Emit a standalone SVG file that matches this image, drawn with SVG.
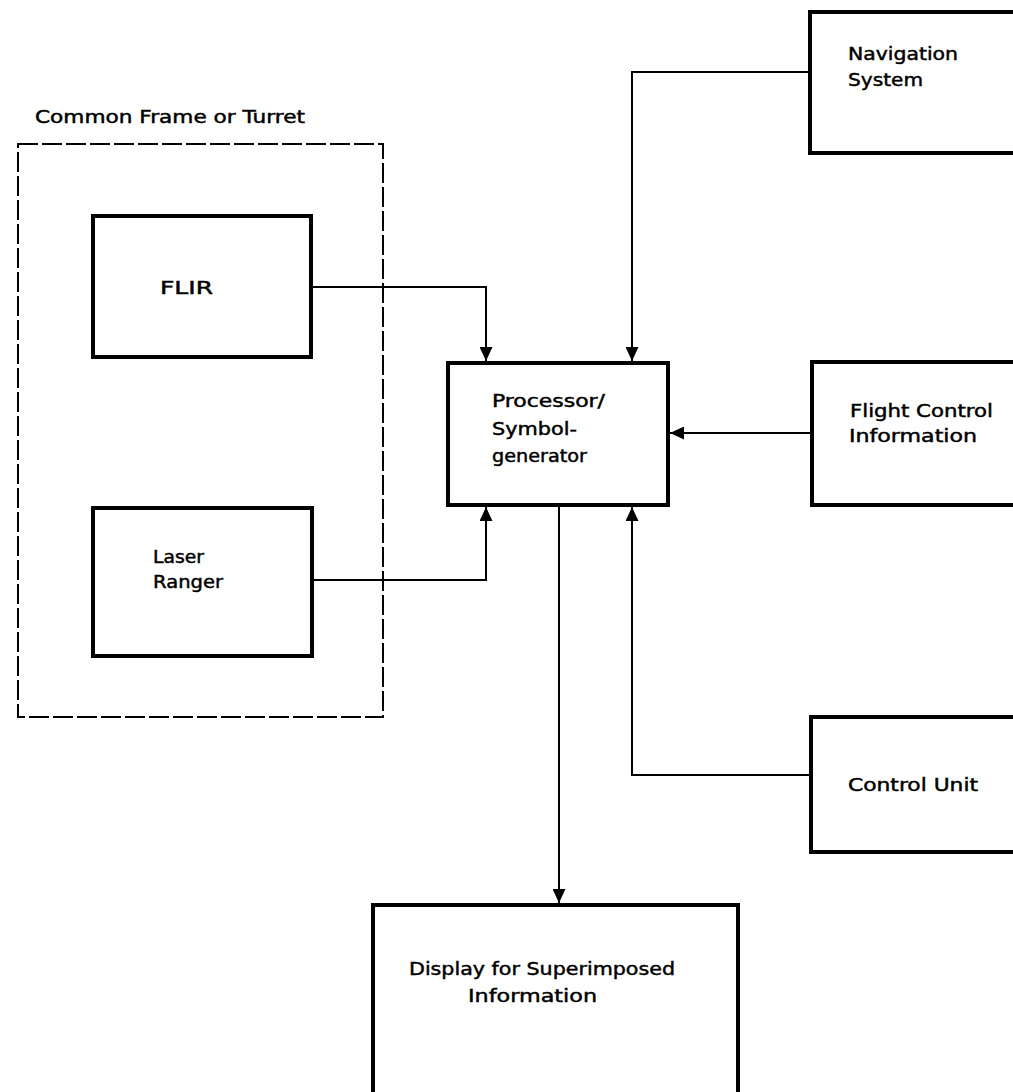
<svg xmlns="http://www.w3.org/2000/svg" width="1013" height="1092" viewBox="0 0 1013 1092">
<style>
  .box { fill: #fff; stroke: #000; stroke-width: 4; }
  .frame { fill: none; stroke: #000; stroke-width: 2; stroke-dasharray: 20 4; }
  .conn { fill: none; stroke: #000; stroke-width: 2; }
  text { font-family: "DejaVu Sans", "Liberation Sans", sans-serif; font-size: 17px; fill: #000; stroke: #000; stroke-width: 0.45; }
</style>
<defs>
  <marker id="arr" markerUnits="userSpaceOnUse" markerWidth="15" markerHeight="13" refX="14" refY="6.5" orient="auto">
    <path d="M0,0 L14,6.5 L0,13 z" fill="#000"/>
  </marker>
</defs>
<rect width="1013" height="1092" fill="#fff"/>

<g id="frame">
  <rect class="frame" x="18" y="144" width="365" height="573"/>
  <text x="35" y="123" textLength="270" lengthAdjust="spacingAndGlyphs">Common Frame or Turret</text>
</g>

<g id="connectors">
  <path class="conn" d="M311,287 H486 V361" marker-end="url(#arr)"/>
  <path class="conn" d="M810,72 H632 V361" marker-end="url(#arr)"/>
  <path class="conn" d="M812,433 H670" marker-end="url(#arr)"/>
  <path class="conn" d="M312,580 H486 V507" marker-end="url(#arr)"/>
  <path class="conn" d="M811,775 H632 V507" marker-end="url(#arr)"/>
  <path class="conn" d="M559,505 V903" marker-end="url(#arr)"/>
</g>

<g id="flir">
  <rect class="box" x="93" y="216" width="218" height="141"/>
  <text x="160" y="294" textLength="53" lengthAdjust="spacingAndGlyphs">FLIR</text>
</g>

<g id="laser">
  <rect class="box" x="93" y="508" width="219" height="148"/>
  <text x="153" y="563" textLength="51" lengthAdjust="spacingAndGlyphs">Laser</text>
  <text x="153" y="588" textLength="70" lengthAdjust="spacingAndGlyphs">Ranger</text>
</g>

<g id="processor">
  <rect class="box" x="448" y="363" width="220" height="142"/>
  <text x="492" y="407" textLength="113" lengthAdjust="spacingAndGlyphs">Processor/</text>
  <text x="492" y="435" textLength="85" lengthAdjust="spacingAndGlyphs">Symbol-</text>
  <text x="492" y="462" textLength="95" lengthAdjust="spacingAndGlyphs">generator</text>
</g>

<g id="navigation">
  <rect class="box" x="810" y="12" width="215" height="141"/>
  <text x="848" y="60" textLength="110" lengthAdjust="spacingAndGlyphs">Navigation</text>
  <text x="848" y="86" textLength="75" lengthAdjust="spacingAndGlyphs">System</text>
</g>

<g id="flight-control">
  <rect class="box" x="812" y="362" width="215" height="143"/>
  <text x="850" y="417" textLength="143" lengthAdjust="spacingAndGlyphs">Flight Control</text>
  <text x="849" y="442" textLength="128" lengthAdjust="spacingAndGlyphs">Information</text>
</g>

<g id="control-unit">
  <rect class="box" x="811" y="717" width="215" height="135"/>
  <text x="848" y="791" textLength="130" lengthAdjust="spacingAndGlyphs">Control Unit</text>
</g>

<g id="display">
  <rect class="box" x="373" y="905" width="365" height="200"/>
  <text x="409" y="975" textLength="266" lengthAdjust="spacingAndGlyphs">Display for Superimposed</text>
  <text x="468" y="1002" textLength="129" lengthAdjust="spacingAndGlyphs">Information</text>
</g>
</svg>
